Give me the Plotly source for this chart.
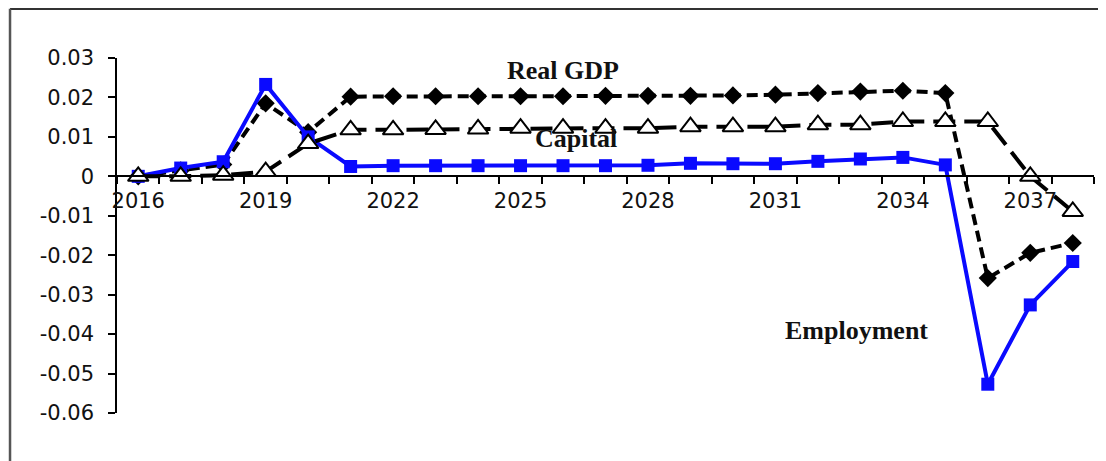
import plotly.graph_objects as go

years = list(range(2016, 2039))
real_gdp = [0.0, 0.0015, 0.003, 0.0185, 0.0112, 0.0202, 0.0203, 0.0203, 0.0203, 0.0203, 0.0203,
            0.0204, 0.0204, 0.0204, 0.0205, 0.0207, 0.0211, 0.0215, 0.0217, 0.0211,
            -0.0258, -0.0194, -0.0169]
employment = [0.0, 0.0021, 0.0037, 0.0233, 0.0100, 0.0025, 0.0027, 0.0027, 0.0027, 0.0027, 0.0027,
              0.0027, 0.0028, 0.0033, 0.0032, 0.0032, 0.0038, 0.0044, 0.0048, 0.0029,
              -0.0527, -0.0326, -0.0216]
capital = [0.0, 0.0, 0.0003, 0.0012, 0.0083, 0.0118, 0.0118, 0.0119, 0.0120, 0.0122, 0.0122,
           0.0122, 0.0122, 0.0126, 0.0126, 0.0126, 0.0131, 0.0131, 0.0139, 0.0139,
           0.0139, 0.0, -0.0089]
xtick_years = [2016, 2019, 2022, 2025, 2028, 2031, 2034, 2037]
ytick_vals = [0.03, 0.02, 0.01, 0, -0.01, -0.02, -0.03, -0.04, -0.05, -0.06]
ytick_text = ["0.03", "0.02", "0.01", "0", "-0.01", "-0.02", "-0.03", "-0.04", "-0.05", "-0.06"]

fig = go.Figure()
fig.add_trace(go.Scatter(
    x=years, y=real_gdp, mode="lines+markers", name="Real GDP",
    line=dict(color="black", width=4, dash="11px,6px"),
    marker=dict(symbol="diamond", size=14, color="black"),
))
fig.add_trace(go.Scatter(
    x=years, y=employment, mode="lines+markers", name="Employment",
    line=dict(color="#0a0aff", width=4),
    marker=dict(symbol="square", size=13, color="#0a0aff"),
))
fig.add_trace(go.Scatter(
    x=years, y=capital, mode="lines+markers", name="Capital",
    line=dict(color="black", width=4, dash="22px,9px"),
    marker=dict(symbol="triangle-up", size=18, color="white",
                line=dict(color="black", width=2)),
))

tick_font = dict(family="DejaVu Sans", size=21, color="#111111")

fig.update_layout(
    width=1098, height=453,
    margin=dict(l=109, r=12, t=50, b=48),
    paper_bgcolor="white", plot_bgcolor="white",
    showlegend=False,
    xaxis=dict(
        range=[2015.5, 2038.5],
        tickvals=xtick_years, ticktext=[str(y) for y in xtick_years],
        ticks="", showgrid=False, zeroline=False,
        showline=True, linecolor="black", linewidth=1.5,
        anchor="free", position=0.6667,
        tickfont=tick_font, ticklabelstandoff=6,
        minor=dict(tickvals=[y - 0.5 for y in years] + [2038.5], ticks="outside",
                   ticklen=7, tickcolor="black", tickwidth=1.5, showgrid=False),
    ),
    yaxis=dict(
        range=[-0.06, 0.03],
        tickvals=ytick_vals, ticktext=ytick_text,
        ticks="outside", ticklen=7, tickcolor="black", tickwidth=1.5,
        showline=True, linecolor="black", linewidth=1.5,
        showgrid=False, zeroline=False,
        tickfont=tick_font, ticklabelstandoff=10,
    ),
)

label_font = dict(family="Liberation Serif", size=26, color="#111111")
fig.add_annotation(x=2026, y=0.0269, xref="x", yref="y", text="<b>Real GDP</b>",
                   showarrow=False, font=label_font)
fig.add_annotation(x=2026.3, y=0.0097, xref="x", yref="y", text="<b>Capital</b>",
                   showarrow=False, font=label_font)
fig.add_annotation(x=2032.9, y=-0.0390, xref="x", yref="y", text="<b>Employment</b>",
                   showarrow=False, font=label_font)

# outer frame (top and left borders of the figure box)
fig.add_shape(type="line", xref="paper", yref="paper", x0=-0.1095, x1=1.0123,
              y0=1.139, y1=1.139, line=dict(color="#333333", width=2.5))
fig.add_shape(type="line", xref="paper", yref="paper", x0=-0.1095, x1=-0.1095,
              y0=1.139, y1=-0.135, line=dict(color="#555555", width=2.5))

fig.write_html("out.html")
